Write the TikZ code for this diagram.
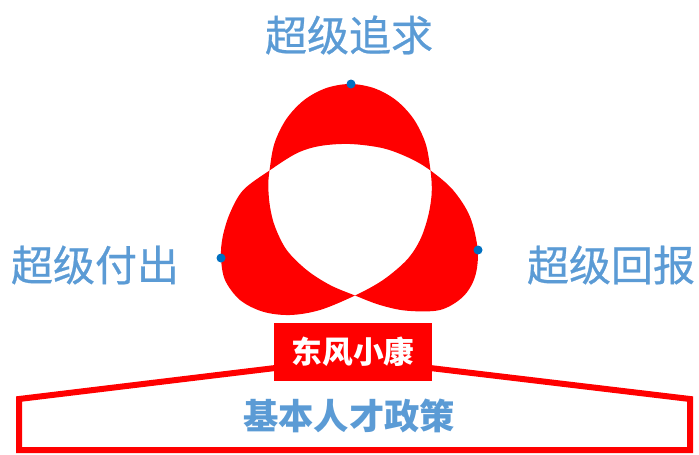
\documentclass[tikz,border=0pt]{standalone}
\usepackage{fontspec}
\newfontfamily\cjk{Noto Sans CJK SC}
\newfontfamily\cjkmid[FakeBold=0.6]{Noto Sans CJK SC}
\definecolor{lblblue}{HTML}{5B9BD5}
\definecolor{dotblue}{HTML}{0070C0}
\tikzset{
  goal/.style={text=lblblue, inner sep=0.75pt, font=\cjkmid\fontsize{31.5}{36}\selectfont},
  pin dot/.style={circle, fill=dotblue, inner sep=0pt, minimum size=6.75pt},
  frame line/.style={draw=red, line width=4.5pt, line join=miter},
}
\begin{document}
\begin{tikzpicture}[x=0.75pt,y=0.75pt,yscale=-1,xscale=1]
            \useasboundingbox (0,0) rectangle (699,454); %set diagram size 699 x 454

            % Trefoil, one closed line that runs twice round the middle
            \fill[red, even odd rule] plot[smooth cycle, tension=0.55] coordinates {
              (350,84) (326.1,88.1) (304.3,99.9) (286.5,118.8) (274.5,143.2) (269.5,170.5)
              (268.3,186.7) (270,206.7) (275,226.7) (286.7,250) (306.7,270) (330,285) (355,295.5)
              (380,305) (406.7,310.7) (440,310) (463,296.7) (475,276.7) (477.7,250) (470,216.7) (453,190) (430.5,170.5)
              (410,158.3) (383.3,148.3) (350,144) (320,146) (296.7,153.3) (269.5,170.5)
              (243.3,190) (230,213) (222.7,236.7) (221,257.3) (225,280) (240,300) (263,311.7) (290,315) (320,310) (355,295.5)
              (383,280) (406.7,260) (420,240) (428,216.7) (431.7,193) (430.5,170.5)
              (425.5,143.2) (413.5,118.8) (395.7,99.9) (373.9,88.1)};

            % Dots on the lobes
            \node[pin dot] (dottop) at (351,84) {};
            \node[pin dot] (dotleft) at (221,258) {};
            \node[pin dot] (dotright) at (478,250) {};

            % Labels round the trefoil
            \node[goal] (pursue) at (349,35) {超级追求}; % Text Node top
            \node[goal] (give) at (95,265) {超级付出}; % Text Node left
            \node[goal] (reward) at (611,265) {超级回报}; % Text Node right

            % Frame
            \coordinate (fl) at (300,365);
            \coordinate (fr) at (405,365);
            \coordinate (tl) at (19,399);
            \coordinate (tr) at (690,399);
            \coordinate (bl) at (19,450);
            \coordinate (br) at (690,450);
            \draw[frame line] (fl) -- (tl) -- (bl) -- (br) -- (tr) -- (fr); % Line

            % Box
            \node[fill=red, text=white, minimum width=118.5pt, minimum height=44pt, inner sep=0pt, font=\cjk\bfseries\fontsize{23}{26}\selectfont] (box) at (353,352) {东风小康}; % Text Node box
            \node[text=lblblue, inner sep=0.75pt, font=\cjk\bfseries\fontsize{26.5}{30}\selectfont] (policy) at (349,416) {基本人才政策}; % Text Node policy
        \end{tikzpicture}
\end{document}
